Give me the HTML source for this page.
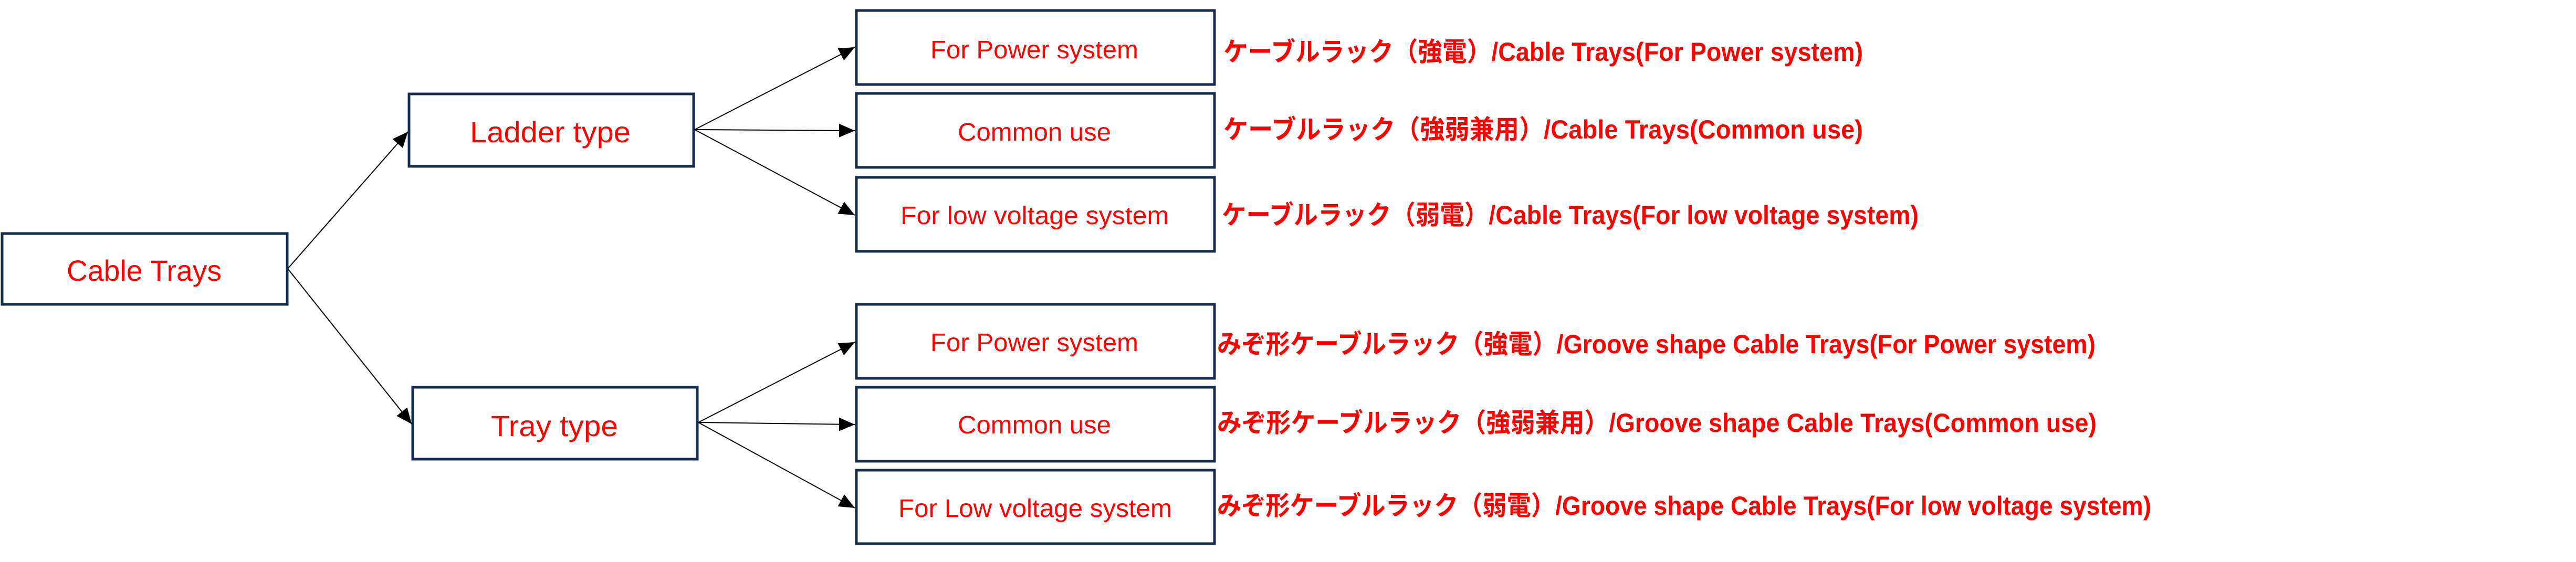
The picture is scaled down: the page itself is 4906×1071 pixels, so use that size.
<!DOCTYPE html>
<html><head><meta charset="utf-8"><style>html,body{margin:0;padding:0;background:#fff}svg{display:block}</style></head>
<body>
<svg width="4906" height="1071" viewBox="0 0 4906 1071" xmlns="http://www.w3.org/2000/svg">
<defs><marker id="a" markerWidth="30" markerHeight="26" refX="30" refY="13" orient="auto" markerUnits="userSpaceOnUse"><path d="M0,0 L30,13 L0,26 z" fill="#000"/></marker></defs>
<g fill="none" stroke="#182c4f" stroke-width="5">
<rect x="4" y="445" width="543" height="135"/>
<rect x="779" y="179" width="542" height="138"/>
<rect x="786" y="738" width="542" height="137"/>
<rect x="1631" y="20" width="682" height="141"/>
<rect x="1631" y="178" width="682" height="141"/>
<rect x="1631" y="338" width="682" height="141"/>
<rect x="1631" y="580" width="682" height="141"/>
<rect x="1631" y="738" width="682" height="141"/>
<rect x="1631" y="896" width="682" height="140"/>
</g>
<g stroke="#000" stroke-width="2" marker-end="url(#a)">
<line x1="548" y1="512" x2="777" y2="251"/>
<line x1="548" y1="512" x2="784" y2="808"/>
<line x1="1323" y1="247" x2="1628" y2="90"/>
<line x1="1323" y1="247" x2="1628" y2="249"/>
<line x1="1323" y1="247" x2="1628" y2="410"/>
<line x1="1330" y1="805" x2="1628" y2="652"/>
<line x1="1330" y1="805" x2="1628" y2="809"/>
<line x1="1330" y1="805" x2="1628" y2="968"/>
</g>
<g fill="#ff0000" font-family="'Liberation Sans', sans-serif" font-size="56">
<text x="127" y="535" textLength="295" lengthAdjust="spacingAndGlyphs">Cable Trays</text>
<text x="895" y="271" textLength="306" lengthAdjust="spacingAndGlyphs">Ladder type</text>
<text x="935" y="831" textLength="242" lengthAdjust="spacingAndGlyphs">Tray type</text>
<g font-size="48">
<text x="1772" y="111" textLength="396" lengthAdjust="spacingAndGlyphs">For Power system</text>
<text x="1824" y="268" textLength="292" lengthAdjust="spacingAndGlyphs">Common use</text>
<text x="1715" y="427" textLength="511" lengthAdjust="spacingAndGlyphs">For low voltage system</text>
<text x="1772" y="669" textLength="396" lengthAdjust="spacingAndGlyphs">For Power system</text>
<text x="1824" y="826" textLength="292" lengthAdjust="spacingAndGlyphs">Common use</text>
<text x="1711" y="985" textLength="521" lengthAdjust="spacingAndGlyphs">For Low voltage system</text>
</g>
<g font-family="'Liberation Sans','Noto Sans CJK JP',sans-serif" font-size="50" font-weight="bold">
<text x="2330" y="116" textLength="1218" lengthAdjust="spacingAndGlyphs">ケーブルラック（強電）/Cable Trays(For Power system)</text>
<text x="2330" y="264" textLength="1218" lengthAdjust="spacingAndGlyphs">ケーブルラック（強弱兼用）/Cable Trays(Common use)</text>
<text x="2327" y="427" textLength="1327" lengthAdjust="spacingAndGlyphs">ケーブルラック（弱電）/Cable Trays(For low voltage system)</text>
<text x="2318" y="673" textLength="1673" lengthAdjust="spacingAndGlyphs">みぞ形ケーブルラック（強電）/Groove shape Cable Trays(For Power system)</text>
<text x="2318" y="823" textLength="1675" lengthAdjust="spacingAndGlyphs">みぞ形ケーブルラック（強弱兼用）/Groove shape Cable Trays(Common use)</text>
<text x="2318" y="981" textLength="1779" lengthAdjust="spacingAndGlyphs">みぞ形ケーブルラック（弱電）/Groove shape Cable Trays(For low voltage system)</text>
</g>
</g>
</svg>
</body></html>
